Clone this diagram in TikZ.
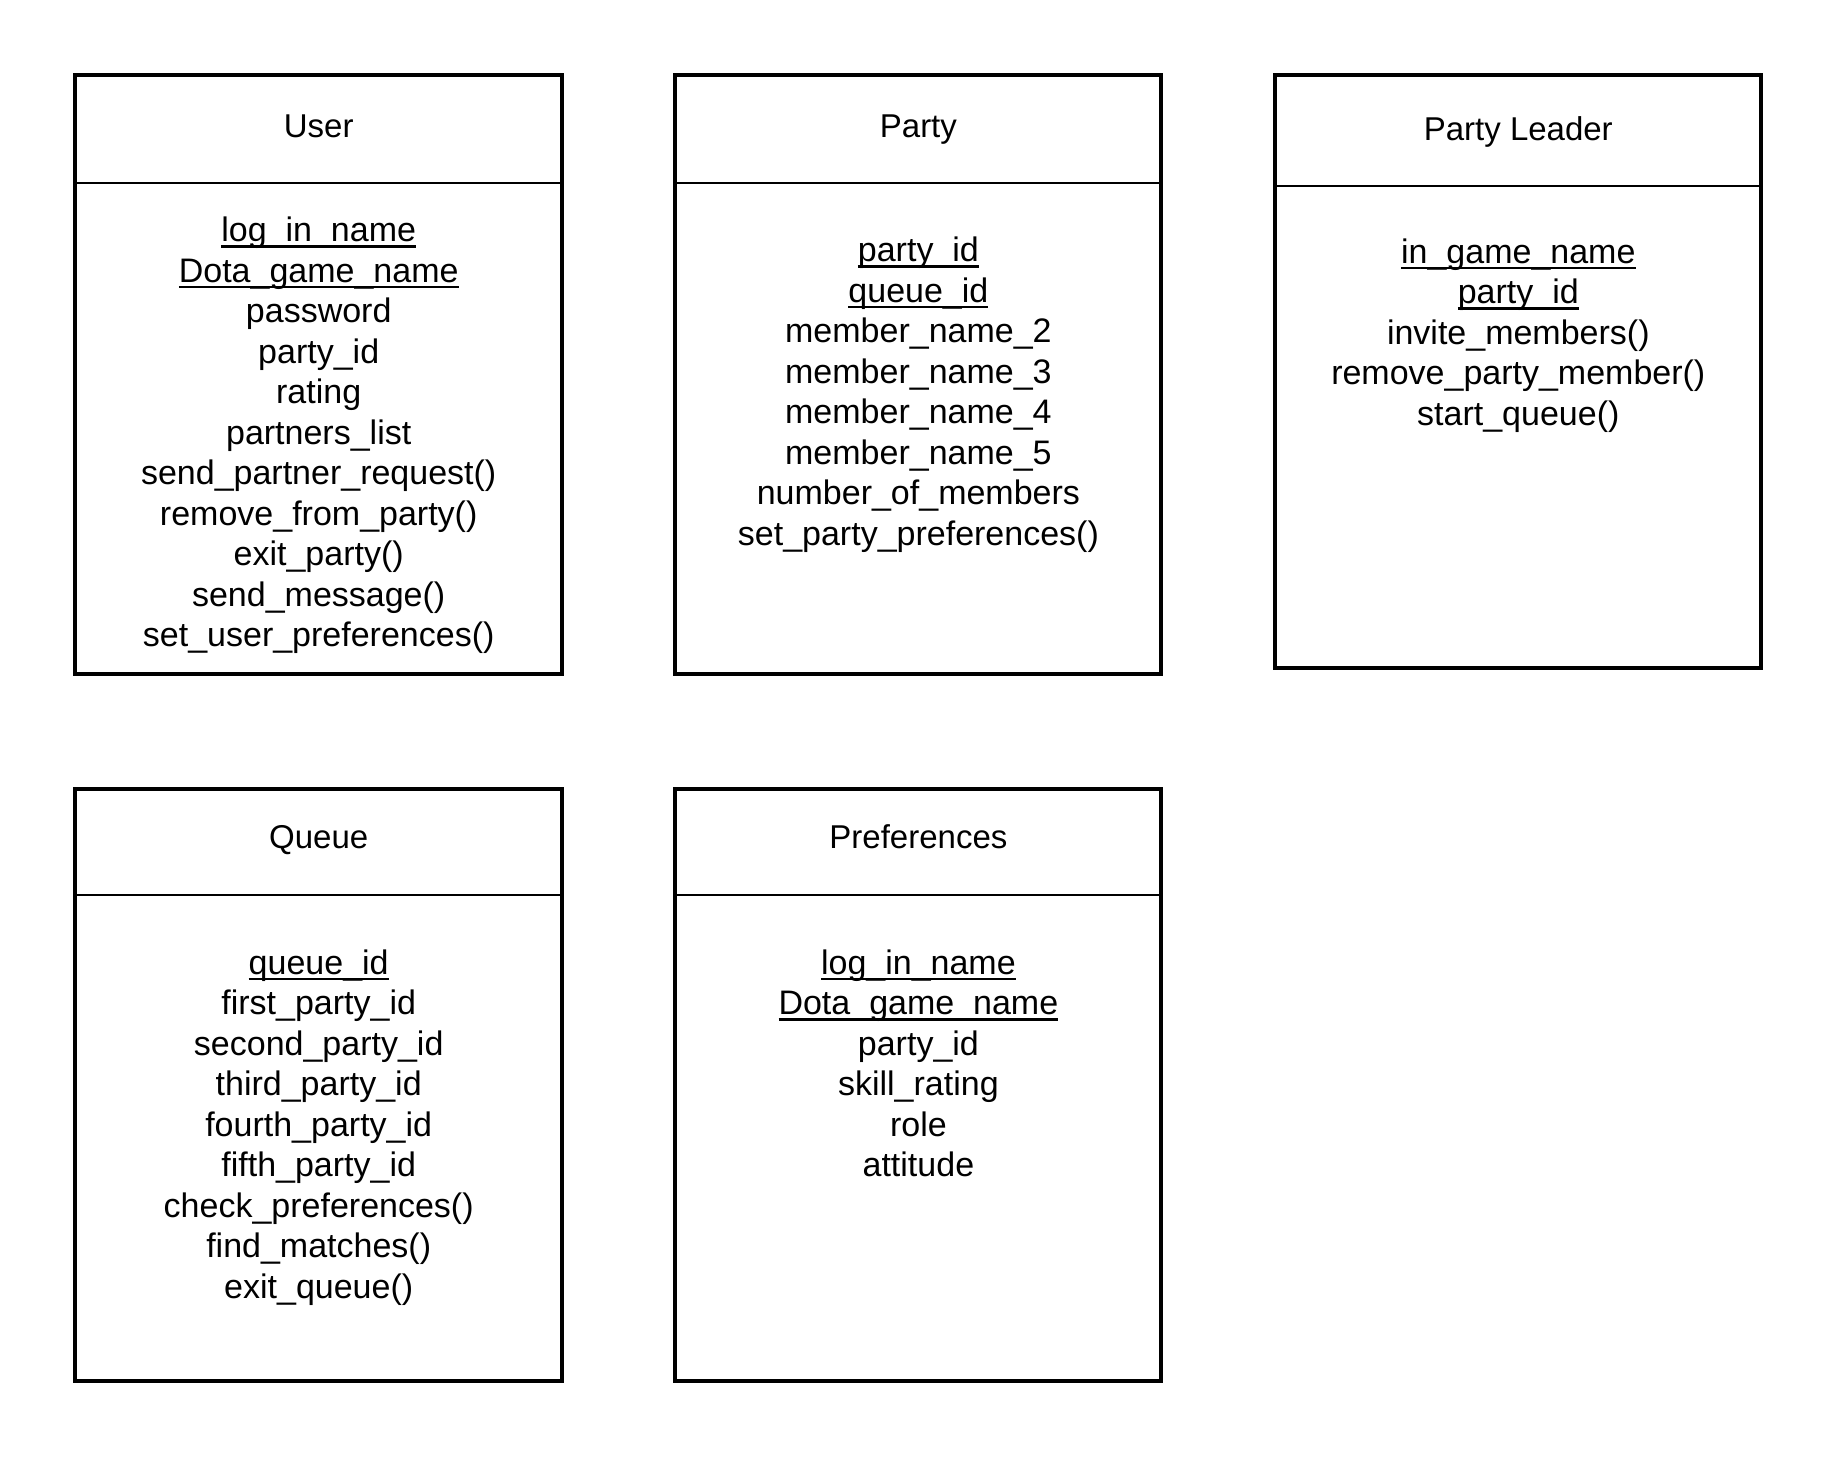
\documentclass[tikz,border=0pt]{standalone}
\usepackage{fontspec}
\setmainfont{Liberation Sans}
\usetikzlibrary{fit}
\newcommand\keyline[1]{\setbox0\hbox{#1}\rlap{\rule[-3pt]{\wd0}{1.2pt}}\box0}
\tikzset{
  classbox/.style={draw=black, line width=2pt, inner sep=0pt},
  divider/.style={draw=black, line width=1.1pt},
  classtitle/.style={anchor=base, inner sep=0pt, font=\fontsize{16.5}{19.8}\selectfont},
  member/.style={anchor=base, inner sep=0pt, font=\fontsize{17}{20.4}\selectfont}
}
\begin{document}
\begin{tikzpicture}[x=0.5pt,y=-0.5pt]
\useasboundingbox[fill=white] (0,0) rectangle (1838,1457);

% boxes
\node[classbox, fit={(75.3,75.3) (562,674)}] (user) {};
\node[classbox, fit={(675.3,75.3) (1161.4,674)}] (party) {};
\node[classbox, fit={(1275.3,75.3) (1761.3,668)}] (leader) {};
\node[classbox, fit={(75.3,788.7) (562,1381.3)}] (queue) {};
\node[classbox, fit={(675.3,788.7) (1161.4,1381.3)}] (prefs) {};

% header dividers
\draw[divider] (user.west |- 0,182.7) -- (user.east |- 0,182.7);
\draw[divider] (party.west |- 0,182.7) -- (party.east |- 0,182.7);
\draw[divider] (leader.west |- 0,186) -- (leader.east |- 0,186);
\draw[divider] (queue.west |- 0,895) -- (queue.east |- 0,895);
\draw[divider] (prefs.west |- 0,895) -- (prefs.east |- 0,895);

% titles
\node[classtitle] (user-title) at (318.7,137.3) {User};
\node[classtitle] (party-title) at (918.4,137.3) {Party};
\node[classtitle] (leader-title) at (1518.3,140) {Party Leader};
\node[classtitle] (queue-title) at (318.7,848.3) {Queue};
\node[classtitle] (prefs-title) at (918.4,848.3) {Preferences};

% members
\foreach \t [count=\i] in {
  {\keyline{log\_in\_name}},
  {\keyline{Dota\_game\_name}},
  password, party\_id, rating, partners\_list,
  send\_partner\_request(), remove\_from\_party(), exit\_party(),
  send\_message(), set\_user\_preferences()}
  \node[member] (user-\i) at (318.7,{241.5+(\i-1)*40.5}) {\t};

\foreach \t [count=\i] in {
  {\keyline{party\_id}},
  {\keyline{queue\_id}},
  member\_name\_2, member\_name\_3, member\_name\_4, member\_name\_5,
  number\_of\_members, set\_party\_preferences()}
  \node[member] (party-\i) at (918.4,{261.7+(\i-1)*40.5}) {\t};

\foreach \t [count=\i] in {
  {\keyline{in\_game\_name}},
  {\keyline{party\_id}},
  invite\_members(), remove\_party\_member(), start\_queue()}
  \node[member] (leader-\i) at (1518.3,{263+(\i-1)*40.5}) {\t};

\foreach \t [count=\i] in {
  {\keyline{queue\_id}},
  first\_party\_id, second\_party\_id, third\_party\_id,
  fourth\_party\_id, fifth\_party\_id,
  check\_preferences(), find\_matches(), exit\_queue()}
  \node[member] (queue-\i) at (318.7,{974.3+(\i-1)*40.5}) {\t};

\foreach \t [count=\i] in {
  {\keyline{log\_in\_name}},
  {\keyline{Dota\_game\_name}},
  party\_id, skill\_rating, role, attitude}
  \node[member] (prefs-\i) at (918.4,{974.3+(\i-1)*40.5}) {\t};
\end{tikzpicture}
\end{document}
